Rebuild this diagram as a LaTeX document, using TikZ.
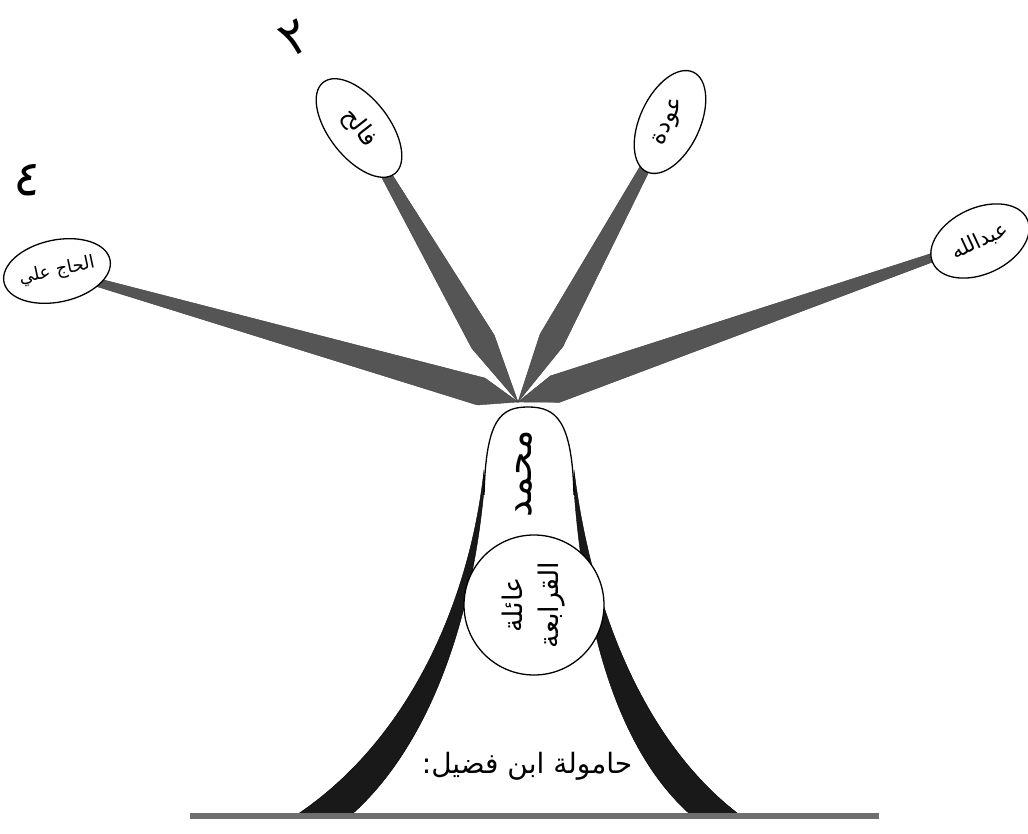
\documentclass[tikz,border=0pt]{standalone}
\usepackage{fontspec}
\usepackage{xcolor}
\usepackage{tikz}
\usetikzlibrary{calc,shapes.geometric}
\newfontfamily\arabicfont[Script=Arabic]{DejaVu Sans}
\TeXXeTstate=1
\definecolor{cinzaescuro}{RGB}{85,85,85}
\definecolor{cinzamedio}{RGB}{110,110,110}
\pgfdeclarelayer{fundo}
\pgfsetlayers{fundo,main}
\tikzset{
  folha/.style={ellipse,draw=black,line width=1.3pt,fill=white,inner sep=0pt,
    font=\arabicfont\fontsize{24}{28}\selectfont},
  ramo/.style={fill=cinzaescuro,draw=black!75,line width=0.4pt},
  faixa/.style={fill=black!90,draw=black},
  rotulo/.style={font=\arabicfont\fontsize{28}{34}\selectfont,align=center},
  numero/.style={font=\arabicfont\fontsize{50}{54}\selectfont}
}
% galho: no da folha, meia largura maxima, posicao do maximo
\newcommand{\galho}[3]{%
  \filldraw[ramo] ($(#1)!3pt!-90:(hub)$) -- ($(hub)!#3!(#1)!#2!90:(#1)$) -- (hub)
    -- ($(hub)!#3!(#1)!#2!-90:(#1)$) -- ($(#1)!3pt!90:(hub)$) -- cycle;}

\begin{document}
\begin{tikzpicture}[x=1pt,y=-1pt]
  \useasboundingbox (0,0) rectangle (1028,834);
  \coordinate (hub) at (518,402);

  % folhas
  \node[folha,minimum width=106pt,minimum height=62pt,rotate=12,
    font=\arabicfont\fontsize{18}{22}\selectfont] (haj) at (57,271)
    {\beginR الحاج علي\endR};
  \node[folha,minimum width=116pt,minimum height=60pt,rotate=-52] (falih) at (359,128)
    {\beginR فالح\endR};
  \node[folha,minimum width=110pt,minimum height=60pt,rotate=65] (awda) at (670,122)
    {\beginR عودة\endR};
  \node[folha,minimum width=104pt,minimum height=66pt,rotate=25,
    font=\arabicfont\fontsize{21}{24}\selectfont] (abd) at (980,241)
    {\beginR عبدالله\endR};

  \node[numero,rotate=30] (dois) at (295,38) {٢};
  \node[numero,rotate=-8] (quatro) at (28,180) {٤};

  \begin{pgfonlayer}{fundo}
    \galho{haj}{14pt}{0.08}
    \galho{falih}{13pt}{0.22}
    \galho{awda}{13pt}{0.22}
    \galho{abd}{14pt}{0.08}
  \end{pgfonlayer}

  % tronco
  \filldraw[faixa] (484,470) .. controls (470,600) and (410,740) .. (295,816)
    -- (350,816) .. controls (420,755) and (470,640) .. (484,490) -- cycle;
  \filldraw[faixa] (574,470) .. controls (590,600) and (640,740) .. (741,816)
    -- (692,816) .. controls (622,755) and (585,640) .. (574,490) -- cycle;
  \draw[line width=1.3pt] (484,495) .. controls (486,420) and (500,407) .. (528,407)
    .. controls (556,407) and (572,420) .. (574,495);
  \node[rotulo,font=\arabicfont\fontsize{38}{40}\selectfont,rotate=90] (pai) at (524,474)
    {\beginR محمد\endR};
  \node[circle,draw,line width=1.3pt,fill=white,minimum size=140pt,inner sep=0pt,
    rotulo,font=\arabicfont\fontsize{27}{36}\selectfont,rotate=90] (familia) at (534,605)
    {{\beginR عائلة\endR}\\{\beginR القرابعة\endR}};
  \node[rotulo] (hamula) at (527,766) {\beginR حامولة ابن فضيل:\endR};

  \draw[line width=6pt,cinzamedio] (190,816) -- (879,816);
\end{tikzpicture}
\end{document}
